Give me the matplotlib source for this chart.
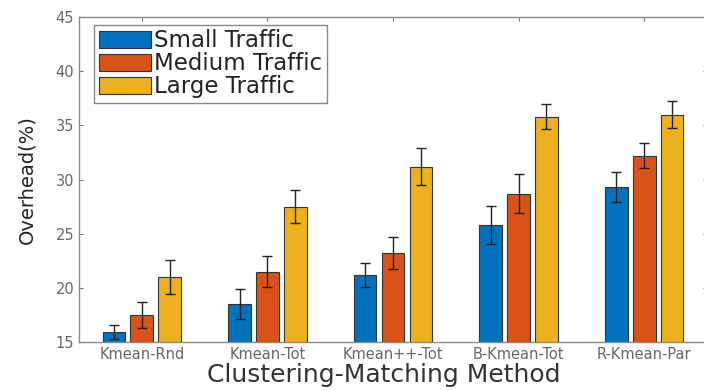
import numpy as np
from matplotlib import pyplot as plt

methods = ["Kmean-Rnd", "Kmean-Tot", "Kmean++-Tot", "B-Kmean-Tot", "R-Kmean-Par"]
series = ["Small Traffic", "Medium Traffic", "Large Traffic"]

small = [15.9, 18.5, 21.2, 25.8, 29.3]
medium = [17.5, 21.5, 23.2, 28.7, 32.2]
large = [21.0, 27.5, 31.2, 35.8, 36.0]

small_err = [0.65, 1.4, 1.1, 1.75, 1.4]
medium_err = [1.2, 1.45, 1.5, 1.8, 1.15]
large_err = [1.55, 1.55, 1.75, 1.15, 1.2]

colors = ["#0072BD", "#D95319", "#EDB120"]

fig = plt.figure(figsize=(7.04, 3.9), dpi=100)
ax = fig.add_axes([79/704, 1-342/390, 628/704, 325/390])

x = np.arange(1, len(methods) + 1)
w = 0.18
off = 0.222
vals = [small, medium, large]
errs = [small_err, medium_err, large_err]
for i in range(3):
    ax.bar(x + (i - 1) * off, vals[i], w, color=colors[i], edgecolor="#333333",
           linewidth=0.8, label=series[i], zorder=2)
    ax.errorbar(x + (i - 1) * off, vals[i], yerr=errs[i], fmt="none",
                ecolor="#222222", elinewidth=1.0, capsize=3.6, capthick=1.0, zorder=3)

ax.set_xlim(0.5, 5.5)
ax.set_ylim(15, 45)
ax.set_yticks([15, 20, 25, 30, 35, 40, 45])
ax.set_xticks(x)
ax.set_xticklabels(methods)
ax.tick_params(direction="in", top=True, right=True, length=3,
               colors="#777777", labelcolor="#666666", labelsize=10.5)
for s in ax.spines.values():
    s.set_color("#888888")
    s.set_linewidth(1.0)

# x label placed by hand so it sits like the reference (bottom edge)
fig.text(384/704, 1-382/390, "Clustering-Matching Method", fontsize=18,
         color="#333333", ha="center", va="baseline")
ax.set_ylabel("Overhead(%)", fontsize=14, color="#222222", labelpad=14)

leg = ax.legend(loc="upper left", bbox_to_anchor=(0.024, 0.976), fontsize=16.5,
                fancybox=False, edgecolor="#888888", framealpha=1,
                handlelength=2.3, handleheight=0.8, handletextpad=0.12,
                labelspacing=0.0, borderpad=0.2, borderaxespad=0)
leg.get_frame().set_linewidth(1.0)
for t in leg.get_texts():
    t.set_color("#222222")

fig.savefig("out.png", dpi=100)
